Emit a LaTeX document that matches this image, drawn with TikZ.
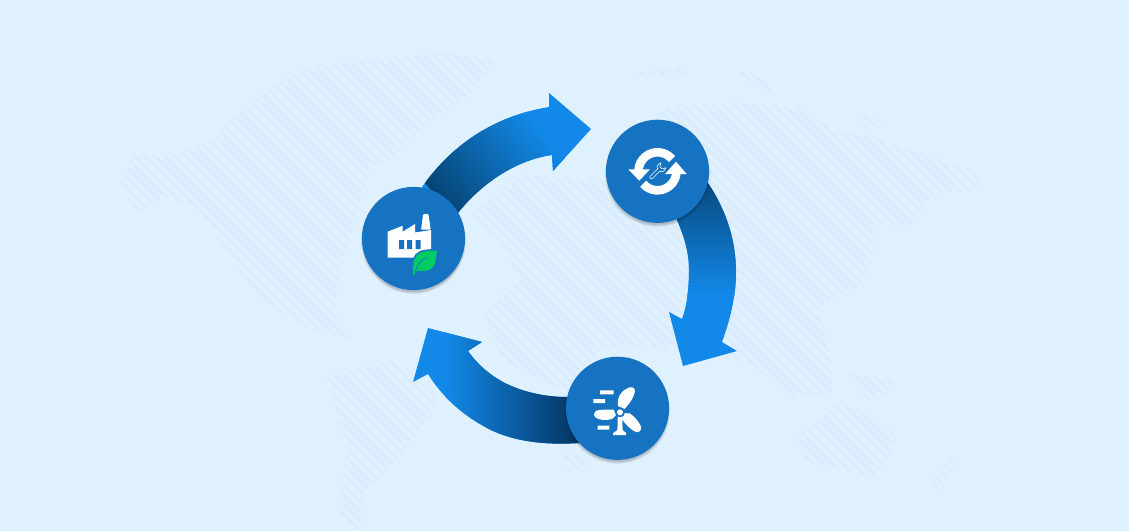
\documentclass[tikz,border=0pt]{standalone}
\definecolor{bgblue}{HTML}{DFF0FE}
\definecolor{stripe}{HTML}{D9ECFC}
\definecolor{hubblue}{HTML}{1573C1}
\definecolor{bright}{HTML}{1289E8}
\definecolor{deepA}{HTML}{064473}
\definecolor{deepB}{HTML}{084B82}
\definecolor{deepC}{HTML}{04305A}
\definecolor{leafgreen}{HTML}{00CC66}
\tikzset{
  hub/.style={circle,fill=hubblue,inner sep=0pt,minimum size=103.2pt},
  icon/.style={fill=white,draw=none},
  band/.style={line width=2.6pt,color=stripe},
  ringarc/.style={line width=8.6pt,color=white},
}
\newcommand{\hubshadow}[2]{%
  \foreach \k in {0.5,1.0,...,3.0}{%
    \fill[black,opacity=0.04] (#1,#2+3) circle[radius=51.6pt+\k pt-2pt];
  }%
}
\begin{document}
\begin{tikzpicture}[x=1pt,y=-1pt]
\useasboundingbox (0,0) rectangle (1129,531);
\fill[bgblue] (0,0) rectangle (1129,531);
% hatched world map
\begin{scope}
\clip (120,183)--(133,155)--(183,153)--(217,137)--(223,127)--(267,90)--(300,70)--(360,60)--(447,53)--(497,60)--(467,97)--(427,123)--(393,157)--(370,167)--(360,200)--(340,273)--(333,313)--(355,340)--(307,327)--(260,300)--(227,253)--(200,210)--(167,197)--(137,213)--cycle
 (327,377)--(397,360)--(437,397)--(427,420)--(397,460)--(363,493)--(360,530)--(340,517)--(343,480)--(347,447)--cycle
 (470,215)--(520,175)--(600,180)--(640,133)--(667,107)--(743,103)--(797,107)--(833,130)--(873,137)--(900,147)--(980,173)--(977,190)--(933,193)--(910,227)--(873,223)--(873,257)--(860,287)--(840,293)--(817,310)--(830,350)--(833,393)--(793,397)--(750,363)--(643,345)--(600,350)--(567,393)--(503,360)--(483,313)--(520,280)--(500,240)--cycle
 (847,373)--(897,380)--(883,397)--(867,400)--cycle
 (797,437)--(843,400)--(893,433)--(893,453)--(873,477)--(807,462)--cycle
 (928,487)--(950,457)--(955,465)--(935,492)--cycle
 (633,73)--(683,67)--(685,74)--(636,78)--cycle
 (737,73)--(747,70)--(777,90)--(767,92)--cycle
 (857,113)--(883,120)--(867,130)--cycle
 (560,455)--(585,455)--(585,470)--(568,470)--cycle;
\foreach \k in {0,10,...,1650}{
  \draw[band] (\k,531) -- ++(-531,-531);
}
\end{scope}
% arrow 1
\fill[bright] (413,238) -- (422,187) .. controls (455,140) and (500,115) .. (549,107) -- (549,93) -- (591,129) -- (553,171) -- (552,155) .. controls (515,160) and (480,185) .. (458,213) -- cycle;
\begin{scope}
\clip (413,238) -- (422,187) .. controls (455,140) and (500,115) .. (549,107) -- (549,93) -- (591,129) -- (553,171) -- (552,155) .. controls (515,160) and (480,185) .. (458,213) -- cycle;
\shade[transform canvas={rotate around={38:(495,167)}},left color=deepA,right color=bright] (430,40) rectangle (555,300);
\end{scope}
% arrow 2
\fill[bright] (657,171) -- (708,183) .. controls (726,210) and (736,240) .. (736,272) .. controls (736,297) and (730,320) .. (722,342) -- (737,351) -- (683,366) -- (669,312) -- (682,319) .. controls (687,305) and (689,288) .. (689,270) .. controls (689,252) and (684,236) .. (677,220) -- cycle;
\begin{scope}
\clip (657,171) -- (708,183) .. controls (726,210) and (736,240) .. (736,272) .. controls (736,297) and (730,320) .. (722,342) -- (737,351) -- (683,366) -- (669,312) -- (682,319) .. controls (687,305) and (689,288) .. (689,270) .. controls (689,252) and (684,236) .. (677,220) -- cycle;
\shade[top color=deepB,bottom color=bright] (640,185) rectangle (750,295);
\fill[deepB] (640,160) rectangle (750,185.5);
\end{scope}
% arrow 3
\fill[bright] (617,408) -- (580,443) .. controls (550,445) and (515,443) .. (487,428) .. controls (463,415) and (443,398) .. (428,374) -- (413,382) -- (428,328) -- (482,342) -- (468,351) .. controls (478,365) and (490,375) .. (503,382) .. controls (522,392) and (545,397) .. (567,397) -- cycle;
\begin{scope}
\clip (617,408) -- (580,443) .. controls (550,445) and (515,443) .. (487,428) .. controls (463,415) and (443,398) .. (428,374) -- (413,382) -- (428,328) -- (482,342) -- (468,351) .. controls (478,365) and (490,375) .. (503,382) .. controls (522,392) and (545,397) .. (567,397) -- cycle;
\shade[left color=bright,right color=deepC] (445,300) rectangle (585,480);
\end{scope}
% hubs
\hubshadow{413.5}{238.5}
\hubshadow{657.5}{171.3}
\hubshadow{617.5}{408.3}
\node[hub] (hubA) at (413.5,238.5) {};
\node[hub] (hubB) at (657.5,171.3) {};
\node[hub] (hubC) at (617.5,408.3) {};
% factory icon
\fill[icon] (387.7,231.7) -- (402.7,225.7) -- (402.7,231.7) -- (415,224) -- (415,232.5) -- (431,230) -- (431,257.7) -- (387.7,257.7) -- cycle;
\fill[icon,rounded corners=1pt] (421,229.5) -- (423.2,214) -- (428.4,214) -- (430.7,229.5) -- cycle;
\fill[hubblue] (399,240) rectangle (404,249) (407,240) rectangle (412,249) (415.7,240) rectangle (420.7,249);
\path[draw=hubblue,line width=3pt] (437,250.7) .. controls (428,250.5) and (420,251) .. (416.5,255.5) .. controls (413,260) and (413,266) .. (413.3,275) -- (415,275) .. controls (416,272) and (416.5,271.2) .. (418,270.5) .. controls (427,272) and (433,270) .. (435,263) .. controls (436,259) and (436.5,255) .. (437,250.7) -- cycle;
\fill[leafgreen] (437,250.7) .. controls (428,250.5) and (420,251) .. (416.5,255.5) .. controls (413,260) and (413,266) .. (413.3,275) -- (415,275) .. controls (416,272) and (416.5,271.2) .. (418,270.5) .. controls (427,272) and (433,270) .. (435,263) .. controls (436,259) and (436.5,255) .. (437,250.7) -- cycle;
\draw[hubblue,line width=0.8pt] (415.3,273.5) .. controls (416,266) and (420,260) .. (427.5,257.5);
% refresh icon
\draw[ringarc] ([shift={(40:19pt)}]hubB.center) arc[start angle=40,end angle=178,radius=19pt];
\draw[ringarc] ([shift={(221:19pt)}]hubB.center) arc[start angle=221,end angle=358,radius=19pt];
\fill[icon] (628.3,169.3) -- (650,169.3) -- (639.3,180.7) -- cycle;
\fill[icon] (665,174) -- (686.7,174) -- (676,161.7) -- cycle;
\begin{scope}[shift={(657,171.7)},rotate=45,x=1pt,y=1pt]
\draw[white,line width=0.6pt,line join=round] (-8.5,-1.6) -- (2.5,-1.6) .. controls (3,-4.5) and (6,-5) .. (9,-3.4) -- (5.6,-1.5) -- (5.6,1.5) -- (9,3.4) .. controls (6,5) and (3,4.5) .. (2.5,1.6) -- (-8.5,1.6) .. controls (-10,1.6) and (-10,-1.6) .. (-8.5,-1.6) -- cycle;
\end{scope}
% turbine icon
\fill[icon] (618,406) .. controls (616.5,397) and (622,390) .. (629,387.5) .. controls (632.5,386.5) and (635.5,388) .. (634.8,392) .. controls (634,397) and (630,403) .. (624.5,409) -- cycle;
\fill[icon] (613.5,409.5) -- (600,409.8) .. controls (594,410) and (593,415) .. (595,417) .. controls (598,420) and (606,421) .. (612,419) -- (616,415) -- cycle;
\fill[icon] (624,413) -- (630,413.5) .. controls (635,417) and (639,422) .. (641,426.5) .. controls (642,430) and (639,433) .. (636,432) .. controls (631,430) and (625.5,424.5) .. (621.5,418.5) -- cycle;
\fill[icon] (617.8,416) -- (622.2,416) -- (622.6,430) -- (626.2,433) -- (626.2,435.2) -- (613.2,435.2) -- (613.2,433) -- (617.4,430) -- cycle;
\fill[hubblue] (620,412.3) circle[radius=5pt];
\fill[white] (620,412.3) circle[radius=3pt];
\fill[icon] (600,390.3) rectangle (613.5,394.3) (593.3,399) rectangle (605,403) (597.7,425.7) rectangle (609.3,429.7);
\end{tikzpicture}
\end{document}
